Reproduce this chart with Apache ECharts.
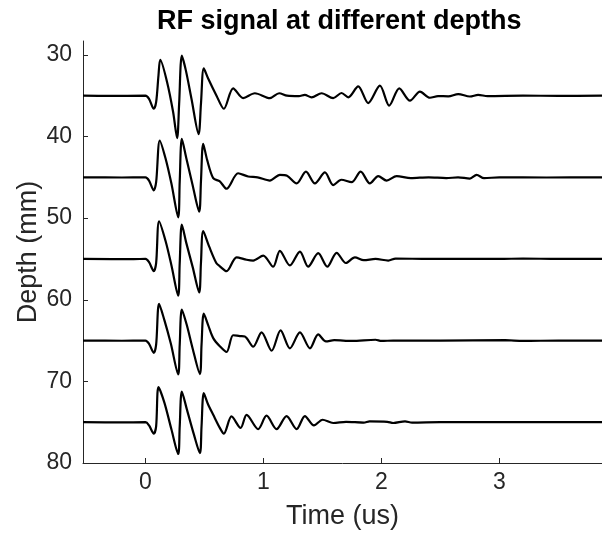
<!DOCTYPE html>
<html>
<head>
<meta charset="utf-8">
<script src="https://cdn.jsdelivr.net/npm/echarts@6/dist/echarts.min.js"></script>
<style>
html,body{margin:0;padding:0;background:#fff;}
#chart{width:602px;height:542px;}
</style>
</head>
<body>
<div id="chart"></div>
<script>
// Depth (mm) of each trace baseline
const depths = [35, 45, 55, 65, 75];
// Tick values
const xTicks = [0, 1, 2, 3];
const yTicks = [30, 40, 50, 60, 70, 80];
// Each trace: [time (us), signal offset (mm) from its baseline depth]
const trace35 = [[-0.53,0],[-0.3,0.03],[0,0],[0.03,0.4],[0.07,1.6],[0.09,0.8],[0.11,-2.5],[0.125,-4.4],[0.183,-1.65],[0.234,2.0],[0.268,5.2],[0.285,1.0],[0.308,-4.9],[0.342,-3.1],[0.39,0.4],[0.45,4.7],[0.47,1.0],[0.494,-3.35],[0.531,-2.1],[0.602,0],[0.664,1.6],[0.743,-0.9],[0.828,0.3],[0.927,-0.3],[1.054,0.3],[1.133,-0.3],[1.2,0],[1.3,0.05],[1.35,-0.1],[1.408,0.2],[1.493,-0.3],[1.591,0.3],[1.662,-0.33],[1.719,0.2],[1.803,-1.15],[1.888,0.9],[1.987,-1.23],[2.066,1.22],[2.151,-0.9],[2.242,0.61],[2.327,-0.49],[2.411,0.25],[2.48,0.05],[2.567,0.08],[2.651,-0.2],[2.75,0.1],[2.82,-0.1],[2.9,0.05],[3.2,0],[3.5,0.02],[3.87,0]];
const trace45 = [[-0.53,0],[-0.2,0.02],[0,0],[0.03,0.4],[0.07,1.6],[0.09,0.6],[0.121,-4.5],[0.17,-2.3],[0.22,0.8],[0.277,4.9],[0.29,0.5],[0.308,-4.7],[0.345,-2.4],[0.4,1.0],[0.455,4.2],[0.47,0.5],[0.489,-4.1],[0.523,-2.1],[0.574,0.1],[0.63,0.5],[0.687,1.4],[0.785,-0.5],[0.87,-0.1],[0.95,0],[1.054,0.4],[1.139,-0.3],[1.2,-0.2],[1.281,0.75],[1.36,-0.7],[1.436,0.75],[1.521,-0.6],[1.591,0.95],[1.66,0.3],[1.747,0.6],[1.824,-0.7],[1.902,0.75],[1.973,-0.15],[2.044,0.4],[2.129,-0.15],[2.25,0.1],[2.4,0],[2.55,0.1],[2.65,0],[2.75,0.15],[2.807,-0.3],[2.87,0.1],[3.0,0],[3.4,0.02],[3.87,0]];
const trace55 = [[-0.53,0],[-0.1,0.02],[0,0],[0.03,0.4],[0.07,1.5],[0.09,0.5],[0.115,-4.6],[0.17,-2.2],[0.22,0.8],[0.277,4.5],[0.29,0.5],[0.308,-4.2],[0.345,-2.0],[0.4,1.0],[0.455,4.1],[0.47,0.5],[0.489,-3.4],[0.54,-1.5],[0.6,0.5],[0.63,0.9],[0.687,1.5],[0.772,-0.2],[0.857,0.1],[0.913,0.2],[0.998,-0.4],[1.082,0.95],[1.139,-1.0],[1.224,0.8],[1.309,-0.9],[1.379,0.95],[1.464,-0.7],[1.541,0.95],[1.62,-0.75],[1.699,0.5],[1.775,-0.2],[1.85,0.15],[1.95,0],[2.058,0.2],[2.12,-0.05],[2.4,0],[3.0,0],[3.2,-0.05],[3.5,0],[3.87,0]];
const trace65 = [[-0.53,0],[-0.2,0.02],[0,0],[0.03,0.4],[0.07,1.5],[0.09,0.5],[0.115,-4.5],[0.16,-2.5],[0.215,0.4],[0.277,4.15],[0.29,0.5],[0.308,-3.8],[0.35,-1.9],[0.4,1.0],[0.461,4.1],[0.475,0.5],[0.494,-3.3],[0.531,-1.9],[0.574,-0.3],[0.63,0.7],[0.687,1.4],[0.743,-0.65],[0.8,-0.55],[0.842,-0.5],[0.913,0.75],[0.984,-1.0],[1.069,1.25],[1.145,-1.25],[1.224,0.95],[1.309,-1.0],[1.394,0.95],[1.464,-0.75],[1.53,0.1],[1.6,-0.05],[1.75,0.05],[1.95,-0.1],[2.0,0.05],[2.1,0],[2.5,0],[3.05,-0.05],[3.2,0.05],[3.5,0],[3.87,0]];
const trace75 = [[-0.53,0],[-0.2,0.02],[0,0],[0.03,0.4],[0.07,1.4],[0.09,0.5],[0.11,-4.3],[0.16,-2.4],[0.22,0.9],[0.277,3.9],[0.29,0.5],[0.308,-3.75],[0.35,-1.6],[0.41,1.5],[0.461,3.8],[0.475,0.5],[0.494,-3.55],[0.53,-2.2],[0.574,-0.9],[0.63,0.7],[0.664,1.4],[0.729,-0.7],[0.806,0.7],[0.857,-0.9],[0.955,0.85],[1.026,-0.8],[1.111,0.85],[1.196,-0.75],[1.281,0.85],[1.351,-0.75],[1.428,0.4],[1.501,-0.3],[1.591,0.1],[1.7,-0.05],[1.85,0.05],[1.9,-0.1],[2.05,-0.05],[2.1,0.1],[2.2,-0.1],[2.26,0.05],[2.5,0],[3.87,0]];

const traces = [trace35, trace45, trace55, trace65, trace75];
const FONT = '"Liberation Sans", Arial, Helvetica, sans-serif';
const TXT = '#262626';

const chart = echarts.init(document.getElementById('chart'), null, {renderer: 'canvas'});
chart.setOption({
  animation: false,
  backgroundColor: '#ffffff',
  title: {
    text: 'RF signal at different depths',
    left: 152, top: 3,
    textStyle: {fontFamily: FONT, fontSize: 27, fontWeight: 'bold', color: '#000'}
  },
  grid: {left: 83, right: 0, top: 41, bottom: 79, containLabel: false},
  xAxis: {
    type: 'value', min: -0.53, max: 3.87,
    name: 'Time (us)', nameLocation: 'middle', nameGap: 40,
    nameTextStyle: {fontFamily: FONT, fontSize: 27, color: TXT},
    axisLine: {show: true, onZero: false, lineStyle: {color: TXT, width: 1}},
    axisTick: {show: true, inside: true, length: 5, customValues: xTicks, lineStyle: {color: TXT}},
    axisLabel: {fontFamily: FONT, fontSize: 23, color: TXT, margin: 8, customValues: xTicks},
    splitLine: {show: false}
  },
  yAxis: {
    type: 'value', inverse: true, min: 28.3, max: 80,
    name: 'Depth (mm)', nameLocation: 'middle', nameGap: 41, nameRotate: 90,
    nameMoveOverlap: false,
    nameTextStyle: {fontFamily: FONT, fontSize: 27, color: TXT},
    axisLine: {show: true, onZero: false, lineStyle: {color: TXT, width: 1}},
    axisTick: {show: true, inside: true, length: 5, customValues: yTicks, lineStyle: {color: TXT}},
    axisLabel: {fontFamily: FONT, fontSize: 23, color: TXT, margin: 11, customValues: yTicks},
    splitLine: {show: false}
  },
  series: traces.map((tr, i) => ({
    type: 'line',
    data: tr.map(p => [p[0], depths[i] + p[1]]),
    showSymbol: false,
    smooth: 0.3,
    lineStyle: {color: '#000', width: 2.2},
    clip: true
  }))
});
</script>
</body>
</html>
